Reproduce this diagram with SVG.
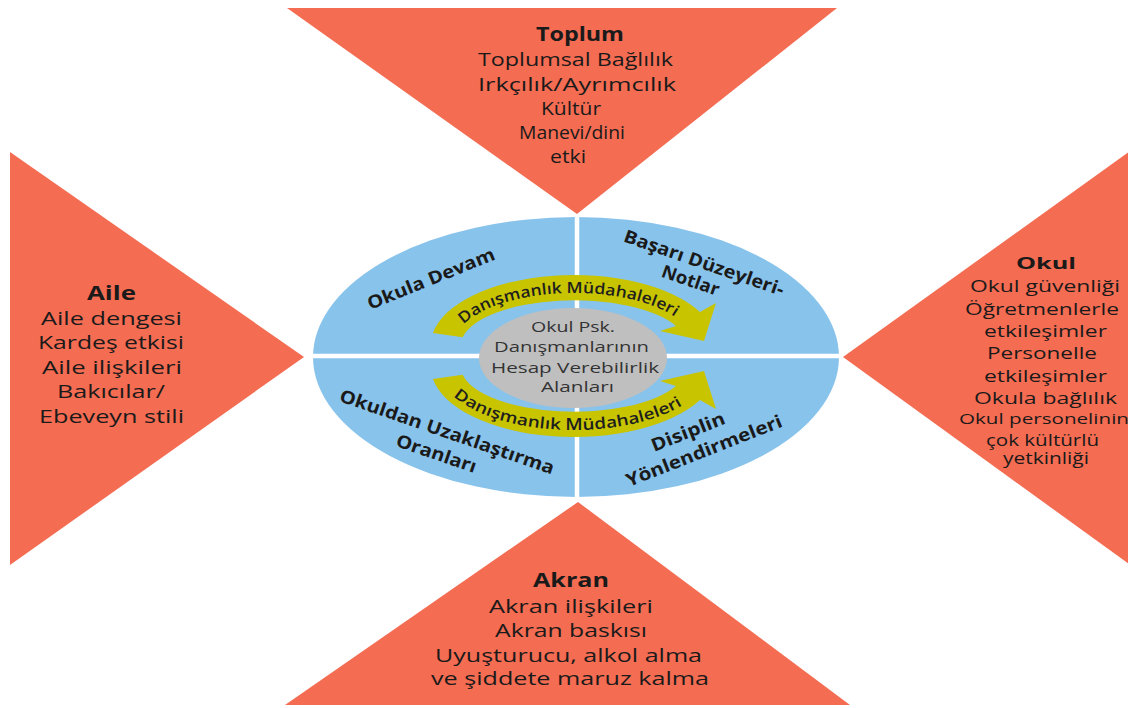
<svg xmlns="http://www.w3.org/2000/svg" width="1128" height="708" viewBox="0 0 1128 708">
<defs>
<style>
.tri{fill:#F46C52}
.t{font-family:"Open Sans","Liberation Sans",sans-serif;font-size:19px;fill:#1a1a1a;text-anchor:middle}
.b{font-weight:bold}
.r{font-size:16.5px}
.g{font-family:"Open Sans","Liberation Sans",sans-serif;font-size:14px;fill:#333;text-anchor:middle}
.q{font-family:"Open Sans","Liberation Sans",sans-serif;font-size:18px;font-weight:bold;fill:#1a1a1a;text-anchor:middle}
.a{font-family:"Open Sans","Liberation Sans",sans-serif;font-size:15.5px;font-weight:600;fill:#1e1e1e;text-anchor:middle}
.arrow{fill:#C8C400}
.sep{stroke:#fff;stroke-width:4.5}
</style>
<path id="pu" d="M 455.8,336 A 120 52 0 0 1 685.3,325.5"/>
<path id="pl" d="M 440,378 A 136 63 0 0 0 700.1,390.6"/>
</defs>
<rect width="1128" height="708" fill="#fff"/>

<g id="node-toplum">
<polygon class="tri" points="287,8 837,8 577,214"/>
<text class="t b" x="580" y="41" textLength="88" lengthAdjust="spacingAndGlyphs">Toplum</text>
<text class="t" x="575.5" y="66" textLength="195" lengthAdjust="spacingAndGlyphs">Toplumsal Bağlılık</text>
<text class="t" x="577" y="91" textLength="198" lengthAdjust="spacingAndGlyphs">Irkçılık/Ayrımcılık</text>
<text class="t" x="571" y="115" textLength="60" lengthAdjust="spacingAndGlyphs">Kültür</text>
<text class="t" x="572" y="139" textLength="106" lengthAdjust="spacingAndGlyphs">Manevi/dini</text>
<text class="t" x="568" y="163" textLength="36" lengthAdjust="spacingAndGlyphs">etki</text>
</g>

<g id="node-aile">
<polygon class="tri" points="10,152 10,565 304,357"/>
<text class="t b" x="111.5" y="300" textLength="49" lengthAdjust="spacingAndGlyphs">Aile</text>
<text class="t" x="111.5" y="325" textLength="141" lengthAdjust="spacingAndGlyphs">Aile dengesi</text>
<text class="t" x="111" y="349" textLength="146" lengthAdjust="spacingAndGlyphs">Kardeş etkisi</text>
<text class="t" x="112" y="374" textLength="140" lengthAdjust="spacingAndGlyphs">Aile ilişkileri</text>
<text class="t" x="111" y="398" textLength="108" lengthAdjust="spacingAndGlyphs">Bakıcılar/</text>
<text class="t" x="111.5" y="423" textLength="145" lengthAdjust="spacingAndGlyphs">Ebeveyn stili</text>
</g>

<g id="node-okul">
<polygon class="tri" points="843,357 1140,144 1140,572"/>
<text class="t r b" x="1046" y="269" textLength="60" lengthAdjust="spacingAndGlyphs">Okul</text>
<text class="t r" x="1045" y="292" textLength="150" lengthAdjust="spacingAndGlyphs">Okul güvenliği</text>
<text class="t r" x="1042" y="315" textLength="154" lengthAdjust="spacingAndGlyphs">Öğretmenlerle</text>
<text class="t r" x="1045.5" y="337" textLength="123" lengthAdjust="spacingAndGlyphs">etkileşimler</text>
<text class="t r" x="1042" y="359" textLength="110" lengthAdjust="spacingAndGlyphs">Personelle</text>
<text class="t r" x="1045.5" y="382" textLength="123" lengthAdjust="spacingAndGlyphs">etkileşimler</text>
<text class="t r" x="1045.5" y="404" textLength="143" lengthAdjust="spacingAndGlyphs">Okula bağlılık</text>
<text class="t r" x="1044" y="423.5" style="font-size:14.5px" textLength="170" lengthAdjust="spacingAndGlyphs">Okul personelinin</text>
<text class="t r" x="1042.5" y="445.5" textLength="113" lengthAdjust="spacingAndGlyphs">çok kültürlü</text>
<text class="t r" x="1046" y="464" textLength="86" lengthAdjust="spacingAndGlyphs">yetkinliği</text>
</g>

<g id="node-akran">
<polygon class="tri" points="578,502 285,705 850,705"/>
<text class="t b" x="571" y="587" textLength="76" lengthAdjust="spacingAndGlyphs">Akran</text>
<text class="t" x="571" y="613" textLength="164" lengthAdjust="spacingAndGlyphs">Akran ilişkileri</text>
<text class="t" x="571" y="637" textLength="152" lengthAdjust="spacingAndGlyphs">Akran baskısı</text>
<text class="t" x="568.5" y="662" textLength="267" lengthAdjust="spacingAndGlyphs">Uyuşturucu, alkol alma</text>
<text class="t" x="570" y="685" textLength="278" lengthAdjust="spacingAndGlyphs">ve şiddete maruz kalma</text>
</g>

<g id="node-center">
<ellipse cx="576" cy="357" rx="263" ry="140" fill="#88C3EC"/>
<line class="sep" x1="577" y1="214" x2="577" y2="500"/>
<line class="sep" x1="310" y1="356" x2="842" y2="356"/>
<g id="quadrant-labels">
<text class="q" transform="translate(431,279) rotate(-22)" y="6" textLength="136" lengthAdjust="spacingAndGlyphs">Okula Devam</text>
<g transform="translate(704,263) rotate(19)">
<text class="q" y="6" textLength="168" lengthAdjust="spacingAndGlyphs">Başarı Düzeyleri-</text>
<text class="q" x="-7" y="27" textLength="60" lengthAdjust="spacingAndGlyphs">Notlar</text>
</g>
<g transform="translate(447,432) rotate(19)">
<text class="q" y="6" textLength="226" lengthAdjust="spacingAndGlyphs">Okuldan Uzaklaştırma</text>
<text class="q" x="-3" y="30" textLength="84" lengthAdjust="spacingAndGlyphs">Oranları</text>
</g>
<g transform="translate(688,432) rotate(-21.5)">
<text class="q" y="6" textLength="78" lengthAdjust="spacingAndGlyphs">Disiplin</text>
<text class="q" x="8" y="29.6" textLength="166" lengthAdjust="spacingAndGlyphs">Yönlendirmeleri</text>
</g>
</g>
</g>

<g id="connectors">
<path class="arrow" d="M 433,333 A 143 70 0 0 1 700,312 L 716,303 L 704,341 L 660,331 L 676,326 A 113 45 0 0 0 462.7,337.2 Z"/>
<path class="arrow" d="M 433,379 A 143 70 0 0 0 700,400 L 716,409 L 704,371 L 660,381 L 676,386 A 113 45 0 0 1 462.7,374.8 Z"/>
<text class="a"><textPath href="#pu" startOffset="50%" textLength="222" lengthAdjust="spacingAndGlyphs">Danışmanlık Müdahaleleri</textPath></text>
<text class="a"><textPath href="#pl" startOffset="50%" textLength="240" lengthAdjust="spacingAndGlyphs">Danışmanlık Müdahaleleri</textPath></text>
</g>

<g id="node-hub">
<ellipse cx="573" cy="358" rx="94" ry="50" fill="#BFBFBF"/>
<text class="g" x="573" y="332" textLength="84" lengthAdjust="spacingAndGlyphs">Okul Psk.</text>
<text class="g" x="571.5" y="352" textLength="155" lengthAdjust="spacingAndGlyphs">Danışmanlarının</text>
<text class="g" x="575" y="373" textLength="168" lengthAdjust="spacingAndGlyphs">Hesap Verebilirlik</text>
<text class="g" x="577.5" y="392" textLength="73" lengthAdjust="spacingAndGlyphs">Alanları</text>
</g>
</svg>
